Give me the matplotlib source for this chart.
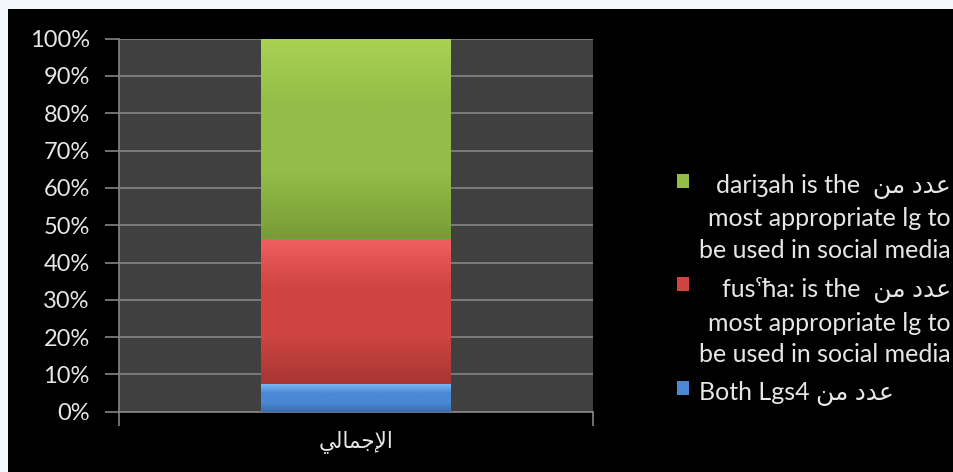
import numpy as np
import matplotlib
matplotlib.use('Agg')
from matplotlib import pyplot as plt
from matplotlib.patches import Rectangle
from matplotlib.colors import LinearSegmentedColormap

# arabic written in presentation forms, visual (left to right) order
AR_TOTAL = '\ufef2\ufedf\ufe8e\ufee4\ufe9f\ufef9\ufe8d'   # الإجمالي
AR_COUNT = '\ufee6\ufee3 \ufea9\ufeaa\ufecb'              # عدد من

categories = [AR_TOTAL]
series_names = [
    'Both Lgs4 ' + AR_COUNT,
    'fus\u02e4\u0127a: is the  ' + AR_COUNT + '\nmost appropriate lg to\nbe used in social media',
    'dari\u0292ah is the  ' + AR_COUNT + '\nmost appropriate lg to\nbe used in social media',
]
both_share = [7.3]
fusha_share = [38.9]
darija_share = [53.8]
colors = ['#4a88d6', '#cf4441', '#93bd48']
tops = ['#79b6f4', '#f06060', '#a9d253']
bottoms = ['#3a6cb0', '#a83634', '#789c36']

plt.rcParams['font.family'] = ['Lato', 'DejaVu Sans']
txt_col = '#e6e6e6'

fig = plt.figure(figsize=(9.54, 4.72), dpi=100, facecolor='#f3f6fb')
fig.patches.append(Rectangle((8/954, 0), 1, 1 - 9/472, transform=fig.transFigure,
                             facecolor='black', edgecolor='none', zorder=-5))
ax = fig.add_axes([119/954, (472-411.7)/472, (593-119)/954, (411.7-38.7)/472])
ax.set_facecolor('#404040')

x = np.arange(len(categories))
bottom = np.zeros(len(categories))
bars = []
for vals, name, c, ct, cb in zip([both_share, fusha_share, darija_share], series_names, colors, tops, bottoms):
    b = ax.bar(x, vals, 0.4, bottom=bottom, color=c, label=name, zorder=2, linewidth=0)
    bottom = bottom + np.array(vals)
    cmap = LinearSegmentedColormap.from_list('g', [cb, c, c, ct])
    for p in b.patches:
        x0, y0 = p.get_x(), p.get_y()
        im = ax.imshow(np.linspace(0, 1, 100).reshape(-1, 1), cmap=cmap, origin='lower',
                       extent=[x0, x0 + p.get_width(), y0, y0 + p.get_height()],
                       aspect='auto', zorder=3)
        im.set_clip_path(p)
    bars.append(b)

ax.set_xlim(-0.5, 0.5)
ax.set_ylim(0, 100)
ax.set_yticks(np.arange(0, 101, 10))
ax.set_yticklabels([f'{v}%' for v in range(0, 101, 10)])
ax.yaxis.grid(True, color='#858585', linewidth=1.2, zorder=1)
ax.set_axisbelow(True)
ax.set_xticks(x)
ax.set_xticklabels(categories, family=['DejaVu Sans'], fontsize=15.5)
ax.set_xticks([-0.5, 0.5], minor=True)
ax.tick_params(axis='x', which='major', length=0, pad=13, colors=txt_col)
ax.tick_params(axis='x', which='minor', length=10, width=1.2, color='#858585')
ax.tick_params(axis='y', length=10, width=1.2, color='#858585', labelcolor=txt_col,
               labelsize=17, pad=11)
for s in ['top', 'right']:
    ax.spines[s].set_visible(False)
for s in ['left', 'bottom']:
    ax.spines[s].set_color('#858585')
    ax.spines[s].set_linewidth(1.2)

h, l = ax.get_legend_handles_labels()
leg = fig.legend(h[::-1], l[::-1], loc='center left', bbox_to_anchor=(677/954, 1 - 290/472),
                 frameon=False, fontsize=18, handlelength=0.5, handleheight=0.5,
                 handletextpad=0.4, labelspacing=0.6, borderpad=0, borderaxespad=0)
for t in leg.get_texts():
    t.set_color(txt_col)
    t.set_multialignment('right')
    t.set_linespacing(1.45)
# markers next to the first line of each label
for col in leg._legend_handle_box.get_children():
    for row in col.get_children():
        row.align = 'top'

fig.savefig('out.png', dpi=100, facecolor=fig.get_facecolor())
